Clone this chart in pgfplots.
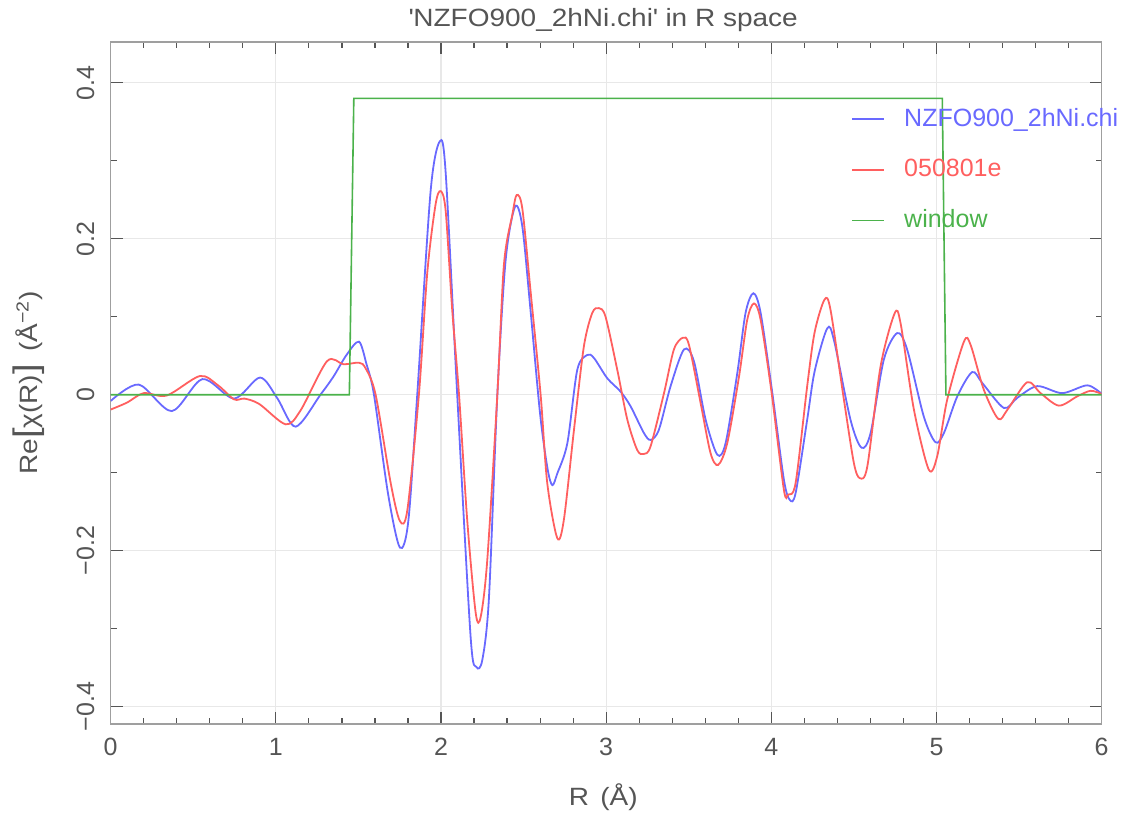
\documentclass[border=0pt]{standalone}
\usepackage{pgfplots}
\pgfplotsset{compat=1.18}
\usepackage{fontspec}
\setmainfont{Liberation Sans}
\newfontfamily\widefont[FakeStretch=1.12]{Liberation Sans}
\definecolor{cblue}{RGB}{105,105,255}
\definecolor{cred}{RGB}{255,95,95}
\definecolor{cgreen}{RGB}{75,178,75}
\definecolor{ctext}{RGB}{85,85,85}
\begin{document}
\begin{tikzpicture}
\begin{axis}[
    scale only axis,
    width=495.5pt, height=341.15pt,
    xmin=0, xmax=6, ymin=-0.4222, ymax=0.4526,
    xtick={0,1,2,3,4,5,6},
    xticklabels={0,1,2,3,4,5,6},
    ytick={-0.4,-0.2,0,0.2,0.4},
    yticklabels={−0.4,−0.2,0,0.2,0.4},
    minor x tick num=4,
    minor y tick num=1,
    tick align=inside,
    major tick length=6pt,
    minor tick length=3pt,
    every tick/.style={ctext, line width=0.6pt},
    axis line style={gray!75, line width=0.8pt},
    grid=major,
    major grid style={gray!18, line width=0.6pt},
    font=\fontsize{12.5}{14}\selectfont,
    tick label style={ctext},
    yticklabel style={rotate=90, anchor=south, inner sep=0pt},
    yticklabel shift=8pt,
    xticklabel style={inner sep=0pt, anchor=north},
    xticklabel shift=7pt,
    xlabel={\widefont R\hspace{0.45em}(Å)},
    xlabel style={ctext, at={(axis description cs:0.497,-0.107)}, anchor=center},
    ylabel={\widefont Re{\fontsize{17}{17}\selectfont[}χ(R){\fontsize{17}{17}\selectfont]}\hspace{0.5em}(Å\textsuperscript{−2})},
    ylabel style={ctext, at={(axis description cs:-0.083,0.5)}, anchor=center},
    title={\widefont\textquotesingle NZFO900\_2hNi.chi\textquotesingle\ in R space},
    every axis title shift=0pt,
    title style={ctext, at={(axis description cs:0.497,1.032)}, anchor=center, yshift=0pt},
    legend style={draw=none, fill=none, at={(axis cs:4.446,0.378)}, anchor=north west,
        row sep=11pt, font=\fontsize{12.5}{14}\selectfont},
    legend cell align=left,
    legend image code/.code={\draw[#1] (0pt,0pt) -- (16pt,0pt); \path (23.5pt,0pt);},
]
% NZFO900_2hNi.chi
\addplot[cblue, line width=0.9pt, smooth, tension=0.5] coordinates {
(0.00,-0.008) (0.17,0.013) (0.37,-0.021) (0.555,0.020) (0.747,-0.005)
(0.904,0.022) (1.01,-0.005) (1.12,-0.041) (1.27,0.0) (1.348,0.023)
(1.428,0.051) (1.503,0.068) (1.549,0.039) (1.594,0.0) (1.68,-0.128)
(1.751,-0.196) (1.802,-0.162) (1.856,0.0) (1.937,0.261) (1.993,0.325)
(2.028,0.285) (2.098,0.0) (2.179,-0.310) (2.214,-0.349) (2.25,-0.340)
(2.29,-0.261) (2.341,0.0) (2.391,0.172) (2.448,0.241) (2.492,0.216)
(2.542,0.108) (2.60,-0.025) (2.645,-0.095) (2.674,-0.116) (2.704,-0.101)
(2.765,-0.062) (2.825,0.032) (2.886,0.051) (2.926,0.047) (3.007,0.021)
(3.087,0.004) (3.148,-0.015) (3.228,-0.049) (3.269,-0.058) (3.319,-0.045)
(3.390,0.011) (3.471,0.058) (3.531,0.043) (3.602,-0.032) (3.673,-0.077)
(3.723,-0.062) (3.794,0.028) (3.844,0.105) (3.891,0.130) (3.935,0.105)
(4.006,0.002) (4.076,-0.109) (4.112,-0.135) (4.147,-0.126) (4.217,-0.032)
(4.262,0.030) (4.338,0.085) (4.379,0.070) (4.479,-0.032) (4.546,-0.068)
(4.601,-0.049) (4.681,0.045) (4.762,0.079) (4.822,0.058) (4.923,-0.028)
(4.994,-0.061) (5.045,-0.049) (5.126,-0.002) (5.216,0.029) (5.277,0.015)
(5.408,-0.017) (5.489,-0.004) (5.610,0.011) (5.761,0.002) (5.913,0.012)
(6.00,0.001)
};
\addlegendentry{\textcolor{cblue}{NZFO900\_2hNi.chi}}
% 050801e
\addplot[cred, line width=0.9pt, smooth, tension=0.5] coordinates {
(0.00,-0.019) (0.10,-0.010) (0.20,0.002) (0.34,-0.001) (0.54,0.024)
(0.65,0.012) (0.747,-0.006) (0.81,-0.005) (0.90,-0.012) (1.06,-0.038)
(1.15,-0.020) (1.31,0.043) (1.41,0.039) (1.503,0.041) (1.543,0.034)
(1.604,0.0) (1.695,-0.113) (1.751,-0.162) (1.796,-0.148) (1.866,0.0)
(1.917,0.157) (1.967,0.244) (1.998,0.261) (2.028,0.236) (2.068,0.108)
(2.109,0.0) (2.159,-0.162) (2.21,-0.280) (2.24,-0.285) (2.28,-0.212)
(2.341,0.0) (2.381,0.167) (2.432,0.231) (2.458,0.256) (2.492,0.239)
(2.542,0.133) (2.603,0.0) (2.643,-0.113) (2.704,-0.184) (2.744,-0.160)
(2.805,-0.045) (2.865,0.062) (2.916,0.105) (2.956,0.111) (2.996,0.100)
(3.067,0.032) (3.128,-0.032) (3.188,-0.071) (3.228,-0.076) (3.269,-0.066)
(3.350,0.002) (3.410,0.058) (3.464,0.073) (3.501,0.064) (3.572,-0.011)
(3.632,-0.075) (3.678,-0.090) (3.733,-0.062) (3.804,0.023) (3.854,0.096)
(3.895,0.117) (3.935,0.096) (4.00,0.005) (4.076,-0.122) (4.102,-0.128)
(4.147,-0.113) (4.217,0.011) (4.262,0.080) (4.322,0.122) (4.358,0.109)
(4.439,-0.006) (4.50,-0.088) (4.536,-0.107) (4.581,-0.092) (4.661,0.036)
(4.746,0.104) (4.782,0.092) (4.863,-0.019) (4.953,-0.096) (5.004,-0.079)
(5.065,-0.006) (5.166,0.068) (5.206,0.064) (5.287,0.006) (5.374,-0.031)
(5.43,-0.019) (5.549,0.016) (5.630,0.002) (5.741,-0.014) (5.853,-0.002)
(5.933,0.005) (6.00,0.001)
};
\addlegendentry{\textcolor{cred}{050801e}}
% window
\addplot[cgreen, line width=0.8pt] coordinates {
(0.00,0.0) (1.445,0.0) (1.472,0.380) (5.035,0.380) (5.057,0.0) (6.00,0.0)
};
\addlegendentry{\textcolor{cgreen}{window}}
\end{axis}
\pgfresetboundingbox
\path (-55.35pt,-47pt) rectangle (510.65pt,362pt);
\end{tikzpicture}
\end{document}
